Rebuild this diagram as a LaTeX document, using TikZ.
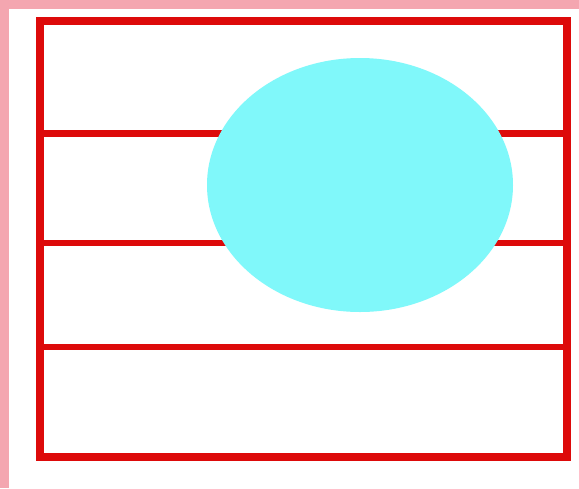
\documentclass[tikz,border=0pt]{standalone}
\definecolor{pinkb}{HTML}{F4A6B0}
\definecolor{redl}{HTML}{DD0A0A}
\definecolor{cyanf}{HTML}{80F8FA}
\begin{document}
\begin{tikzpicture}[x=1pt,y=-1pt,
  frame/.style={draw=redl,line width=8pt},
  rule/.style={draw=redl,line width=6.5pt},
  blob/.style={fill=cyanf}]
\useasboundingbox (0,0) rectangle (579,488);
\fill[white] (0,0) rectangle (579,488);
\fill[pinkb] (0,0) rectangle (579,9);
\fill[pinkb] (0,0) rectangle (9,488);
\draw[rule] (40,133.5) -- (567,133.5);
\draw[rule] (40,243) -- (567,243);
\draw[rule] (40,347) -- (567,347);
\draw[frame] (40,21) rectangle (567,457);
\fill[blob] (360,185) ellipse [x radius=153, y radius=127];
\end{tikzpicture}
\end{document}
